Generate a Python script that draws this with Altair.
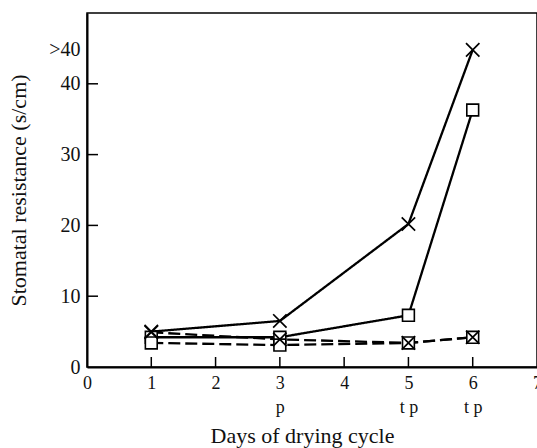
import altair as alt
import pandas as pd

days = [1, 3, 5, 6]
solid_x = [5.0, 6.5, 20.2, 44.8]
solid_sq = [4.2, 4.2, 7.3, 36.3]
dashed_x = [4.9, 3.9, 3.4, 4.2]
dashed_sq = [3.4, 3.1, 3.4, 4.2]

x_ticks = [1, 2, 3, 4, 5, 6]
y_ticks = [10, 20, 30, 40]
x_label_values = [0, 1, 2, 3, 4, 5, 6, 7]
y_label_values = [0, 10, 20, 30, 40, 44.8]

rows = []
for name, vals, style, marker in [
    ("A", solid_x, "solid", "x"),
    ("B", solid_sq, "solid", "square"),
    ("C", dashed_x, "dashed", "x"),
    ("D", dashed_sq, "dashed", "square"),
]:
    for d, v in zip(days, vals):
        rows.append({"day": d, "value": v, "series": name, "style": style, "marker": marker})
df = pd.DataFrame(rows)

FONT = "Liberation Serif"

x_axis = alt.Axis(
    values=x_label_values,
    title="Days of drying cycle",
    ticks=False,
    labelPadding=7,
    labelFont=FONT,
    labelFontSize=18,
    labelColor="#111",
    labelLineHeight=24,
    labelFlush=False,
    labelOverlap=False,
    labelExpr="datum.value == 3 ? ['3', 'p'] : datum.value == 5 ? ['5', 't p'] : datum.value == 6 ? ['6', 't p'] : datum.label",
    titleFont=FONT,
    titleFontSize=22,
    titleFontWeight="normal",
    titleColor="#111",
    titleX=215,
    titleY=75,
    titleAlign="center",
    titleBaseline="alphabetic",
    domainColor="black",
    domainWidth=2,
    grid=False,
)

y_axis = alt.Axis(
    values=y_label_values,
    title="Stomatal resistance (s/cm)",
    ticks=False,
    labelPadding=7,
    labelFont=FONT,
    labelFontSize=20,
    labelColor="#111",
    labelFlush=False,
    labelOverlap=False,
    labelExpr="datum.value == 44.8 ? '>40' : datum.label",
    titleFont=FONT,
    titleFontSize=22,
    titleFontWeight="normal",
    titleColor="#111",
    titleX=-69,
    titleY=177,
    titleAngle=-90,
    titleAlign="center",
    titleBaseline="middle",
    domainColor="black",
    domainWidth=2,
    grid=False,
)

x_enc = alt.X("day:Q", scale=alt.Scale(domain=[0, 7], nice=False, zero=False), axis=x_axis)
y_enc = alt.Y("value:Q", scale=alt.Scale(domain=[0, 50], nice=False), axis=y_axis)

base = alt.Chart(df)

lines = base.mark_line(color="black", strokeWidth=2.3).encode(
    x=x_enc,
    y=y_enc,
    detail="series:N",
    strokeDash=alt.StrokeDash(
        "style:N",
        scale=alt.Scale(domain=["solid", "dashed"], range=[[1, 0], [12, 5]]),
        legend=None,
    ),
)

squares = base.transform_filter(alt.datum.marker == "square").mark_point(
    shape="square", size=140, filled=True, fill="white", stroke="black", strokeWidth=1.6, opacity=1
).encode(x=x_enc, y=y_enc)

crosses = base.transform_filter(alt.datum.marker == "x").mark_point(
    shape="M-1,-1L1,1M-1,1L1,-1", size=180, stroke="black", strokeWidth=1.7, opacity=1, filled=False
).encode(x=x_enc, y=y_enc)

xt = pd.DataFrame({"day": x_ticks})
yt = pd.DataFrame({"value": y_ticks})

x_tick_rules = alt.Chart(xt).mark_rule(color="black", strokeWidth=1.5).encode(
    x=x_enc, y=alt.value(354), y2=alt.value(344)
)
y_tick_rules = alt.Chart(yt).mark_rule(color="black", strokeWidth=1.5).encode(
    y=y_enc, x=alt.value(0), x2=alt.value(11)
)

chart = alt.layer(x_tick_rules, y_tick_rules, lines, squares, crosses).properties(
    width=450,
    height=354,
    autosize=alt.AutoSizeParams(type="none"),
    padding={"left": 87, "top": 13, "right": 0, "bottom": 81},
    background="white",
).configure_view(stroke="black", strokeWidth=1.5)

chart.save("out.html", embed_options={"renderer": "svg", "actions": False})
